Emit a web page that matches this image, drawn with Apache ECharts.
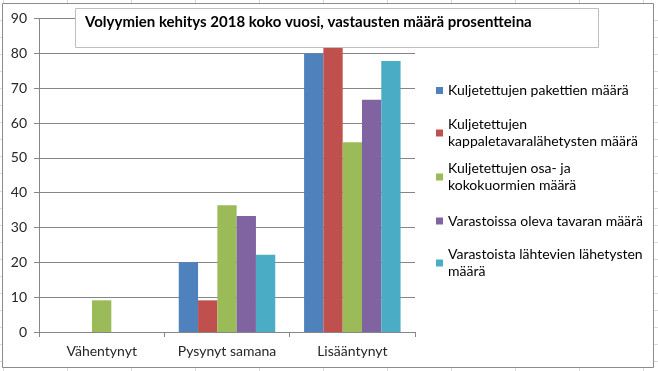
<!DOCTYPE html>
<html>
<head>
<meta charset="utf-8">
<script src="https://cdn.jsdelivr.net/npm/echarts@6/dist/echarts.min.js"></script>
<style>
html,body{margin:0;padding:0;background:#fff;}
#c{width:658px;height:371px;}
</style>
</head>
<body>
<div id="c"></div>
<script>
var titleText = 'Volyymien kehitys 2018 koko vuosi, vastausten määrä prosentteina';
var categories = ['Vähentynyt', 'Pysynyt samana', 'Lisääntynyt'];
var seriesNames = [
  'Kuljetettujen pakettien määrä',
  'Kuljetettujen kappaletavaralähetysten määrä',
  'Kuljetettujen osa- ja kokokuormien määrä',
  'Varastoissa oleva tavaran määrä',
  'Varastoista lähtevien lähetysten määrä'
];
var legendLabels = [
  'Kuljetettujen pakettien määrä',
  'Kuljetettujen\nkappaletavaralähetysten määrä',
  'Kuljetettujen osa- ja\nkokokuormien määrä',
  'Varastoissa oleva tavaran määrä',
  'Varastoista lähtevien lähetysten\nmäärä'
];
var pakettien = [0, 20.0, 80.0];
var kappaletavara = [0, 9.1, 81.8];
var kokokuormat = [9.1, 36.4, 54.5];
var varastoissa = [0, 33.3, 66.7];
var varastoista = [0, 22.2, 77.8];
var yTicks = [0, 10, 20, 30, 40, 50, 60, 70, 80, 90];

var colors = ['#4F81BD', '#C0504D', '#9BBB59', '#8064A2', '#4BACC6'];
var values = [pakettien, kappaletavara, kokokuormat, varastoissa, varastoista];
var FONT = 'Lato, "Liberation Sans", sans-serif';

var chart = echarts.init(document.getElementById('c'), null, {renderer: 'canvas'});

// decorative spreadsheet cell grid behind the chart object
var bg = [];
for (var x = 3; x < 658; x += 64) {
  bg.push({type: 'line', z: -3, silent: true, shape: {x1: x + 0.5, y1: 0, x2: x + 0.5, y2: 371}, style: {stroke: '#d9d9d9', lineWidth: 1}});
}
for (var y = 20; y < 371; y += 17.05) {
  bg.push({type: 'line', z: -3, silent: true, shape: {x1: 0, y1: Math.round(y) + 0.5, x2: 658, y2: Math.round(y) + 0.5}, style: {stroke: '#d9d9d9', lineWidth: 1}});
}
bg.push({type: 'rect', z: -2, silent: true, shape: {x: 2.5, y: 3.5, width: 651, height: 364}, style: {fill: '#fff', stroke: '#8c8c8c', lineWidth: 1}});
bg.push({type: 'rect', z: 5, silent: true, shape: {x: 75.5, y: 8.5, width: 523, height: 39}, style: {fill: '#fff', stroke: '#bfbfbf', lineWidth: 1}});

var legendTops = [82, 107.5, 151.5, 212.5, 237.5];
var legends = seriesNames.map(function (n, i) {
  var multi = legendLabels[i].indexOf('\n') >= 0;
  return {
    show: true,
    left: 436,
    top: legendTops[i],
    padding: 0,
    itemWidth: 7,
    itemHeight: 7,
    itemGap: 0,
    icon: 'rect',
    selectedMode: false,
    data: [n],
    formatter: function () { return legendLabels[i]; },
    textStyle: {
      fontFamily: FONT, fontSize: 14, color: '#000', lineHeight: 17,
      padding: multi ? [17, 0, 0, 0] : 0
    }
  };
});

var series = seriesNames.map(function (n, i) {
  return {
    name: n,
    type: 'bar',
    data: values[i],
    barGap: '0%',
    barCategoryGap: '23%',
    itemStyle: {color: colors[i]},
    emphasis: {disabled: true}
  };
});

chart.setOption({
  animation: false,
  color: colors,
  title: {
    text: titleText,
    left: 85,
    top: 15,
    padding: 0,
    z: 6,
    textStyle: {fontFamily: FONT, fontSize: 15, fontWeight: 'bold', color: '#000'}
  },
  graphic: bg,
  legend: legends,
  grid: {left: 39, top: 18.6, width: 376, height: 313.4, containLabel: false},
  xAxis: {
    type: 'category',
    data: categories,
    axisLine: {show: true, lineStyle: {color: '#868686', width: 1}},
    axisTick: {show: true, length: 5, interval: 0, lineStyle: {color: '#868686'}},
    axisLabel: {fontFamily: FONT, fontSize: 14, color: '#262626', margin: 12, interval: 0, hideOverlap: false}
  },
  yAxis: {
    type: 'value',
    min: yTicks[0],
    max: yTicks[yTicks.length - 1],
    interval: yTicks[1] - yTicks[0],
    axisLine: {show: true, lineStyle: {color: '#868686', width: 1}},
    axisTick: {show: true, length: 5, lineStyle: {color: '#868686'}},
    axisLabel: {fontFamily: FONT, fontSize: 14, color: '#262626', margin: 12},
    splitLine: {show: true, lineStyle: {color: '#868686', width: 1}}
  },
  series: series
});
</script>
</body>
</html>
